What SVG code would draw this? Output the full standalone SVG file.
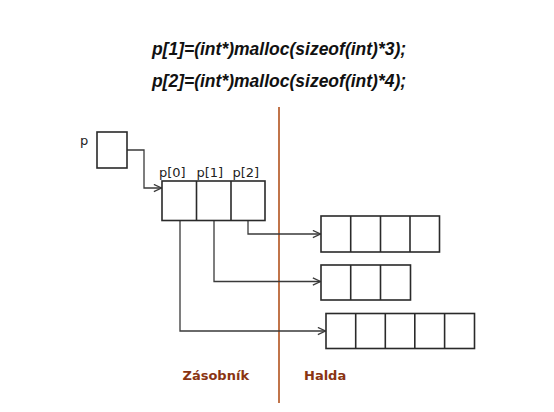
<svg xmlns="http://www.w3.org/2000/svg" width="554" height="412" viewBox="0 0 554 412">
<defs>
<style>
.title{font-family:"Liberation Sans",Arial,sans-serif;font-weight:bold;font-style:italic;font-size:17.5px;fill:#111;text-anchor:middle}
.lbl{font-family:"DejaVu Sans",Verdana,sans-serif;font-size:13px;fill:#222}
.sec{font-family:"DejaVu Sans",Verdana,sans-serif;font-weight:bold;font-size:13px;fill:#8a3412}
.box{fill:#fff;stroke:#2a2a2a;stroke-width:1.6}
.conn{fill:none;stroke:#3a3a3a;stroke-width:1.3}
</style>
<marker id="arr" viewBox="0 0 10 10" refX="9.5" refY="5" markerWidth="9" markerHeight="9" markerUnits="userSpaceOnUse" orient="auto">
<path d="M1,1 L9.5,5 L1,9" fill="none" stroke="#3a3a3a" stroke-width="1.4"/>
</marker>
</defs>
<rect width="554" height="412" fill="#fff"/>
<text class="title" x="279" y="54.5">p[1]=(int*)malloc(sizeof(int)*3);</text>
<text class="title" x="279" y="86.5">p[2]=(int*)malloc(sizeof(int)*4);</text>
<line x1="279" y1="107" x2="279" y2="403" stroke="#c1744a" stroke-width="2"/>
<g id="connectors">
<path class="conn" d="M127,150 H144 V188 H161.5" marker-end="url(#arr)"/>
<path class="conn" d="M248,221 V234 H320.5" marker-end="url(#arr)"/>
<path class="conn" d="M214,221 V281.5 H320.5" marker-end="url(#arr)"/>
<path class="conn" d="M180,221 V331 H325.5" marker-end="url(#arr)"/>
</g>
<g id="p">
<text class="lbl" x="80" y="145">p</text>
<rect class="box" x="97" y="132" width="30" height="36"/>
</g>
<g id="parray">
<text class="lbl" x="159" y="177">p[0]</text>
<text class="lbl" x="196.5" y="177">p[1]</text>
<text class="lbl" x="232.5" y="177">p[2]</text>
<rect class="box" x="162" y="181" width="103" height="39.5"/>
<line class="box" x1="196.5" y1="181" x2="196.5" y2="220.5"/>
<line class="box" x1="231" y1="181" x2="231" y2="220.5"/>
</g>
<g id="heap4">
<rect class="box" x="321" y="216" width="118.5" height="36"/>
<line class="box" x1="350.7" y1="216" x2="350.7" y2="252"/>
<line class="box" x1="380.5" y1="216" x2="380.5" y2="252"/>
<line class="box" x1="410" y1="216" x2="410" y2="252"/>
</g>
<g id="heap3">
<rect class="box" x="321" y="265" width="89.5" height="35"/>
<line class="box" x1="350.7" y1="265" x2="350.7" y2="300"/>
<line class="box" x1="380.5" y1="265" x2="380.5" y2="300"/>
</g>
<g id="heap5">
<rect class="box" x="326" y="313.5" width="148.5" height="35"/>
<line class="box" x1="355.7" y1="313.5" x2="355.7" y2="348.5"/>
<line class="box" x1="385.3" y1="313.5" x2="385.3" y2="348.5"/>
<line class="box" x1="414.8" y1="313.5" x2="414.8" y2="348.5"/>
<line class="box" x1="444.6" y1="313.5" x2="444.6" y2="348.5"/>
</g>
<text class="sec" x="182.5" y="379.5">Zásobník</text>
<text class="sec" x="304" y="379.5">Halda</text>
</svg>
